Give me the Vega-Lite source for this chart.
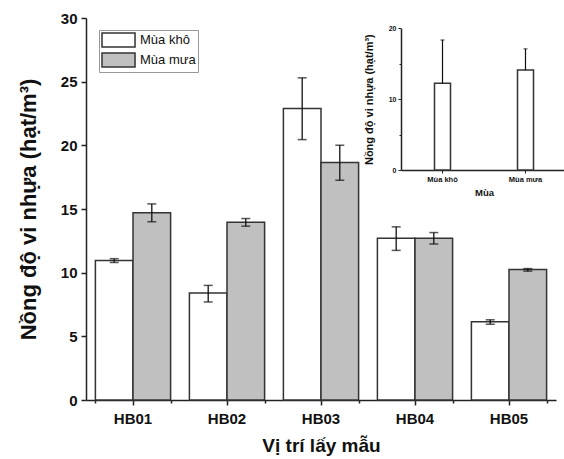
{
  "$schema": "https://vega.github.io/schema/vega-lite/v6.json",
  "autosize": {"type": "none"},
  "padding": {"left": 86, "top": 18, "right": 8, "bottom": 59},
  "width": 470,
  "height": 382,
  "background": "white",
  "config": {
    "view": {"stroke": null},
    "font": "Liberation Sans",
    "axis": {"domainColor": "#222", "domainWidth": 1.5, "tickColor": "#222", "tickWidth": 1.5, "labelColor": "#111", "titleColor": "#111", "labelFont": "Liberation Sans", "titleFont": "Liberation Sans", "grid": false}
  },
  "datasets": {
    "main": [
      {"site": "HB01", "season": "Mùa khô", "mean": 10.95, "lo": 10.8, "hi": 11.1},
      {"site": "HB01", "season": "Mùa mưa", "mean": 14.7, "lo": 14.0, "hi": 15.4},
      {"site": "HB02", "season": "Mùa khô", "mean": 8.4, "lo": 7.7, "hi": 9.0},
      {"site": "HB02", "season": "Mùa mưa", "mean": 13.95, "lo": 13.65, "hi": 14.25},
      {"site": "HB03", "season": "Mùa khô", "mean": 22.9, "lo": 20.45, "hi": 25.3},
      {"site": "HB03", "season": "Mùa mưa", "mean": 18.65, "lo": 17.25, "hi": 20.0},
      {"site": "HB04", "season": "Mùa khô", "mean": 12.7, "lo": 11.75, "hi": 13.6},
      {"site": "HB04", "season": "Mùa mưa", "mean": 12.7, "lo": 12.25, "hi": 13.15},
      {"site": "HB05", "season": "Mùa khô", "mean": 6.15, "lo": 5.95, "hi": 6.3},
      {"site": "HB05", "season": "Mùa mưa", "mean": 10.25, "lo": 10.12, "hi": 10.32}
    ],
    "inset": [
      {"mua": "Mùa khô", "v": 12.25, "hi": 18.35},
      {"mua": "Mùa mưa", "v": 14.1, "hi": 17.1}
    ]
  },
  "layer": [
    {
      "data": {"name": "main"},
      "layer": [
        {
          "encoding": {
            "x": {
              "field": "site", "type": "nominal",
              "scale": {"paddingInner": 0.2, "paddingOuter": 0.1},
              "axis": {"title": "Vị trí lấy mẫu", "labelAngle": 0, "labelFontSize": 15, "labelFontWeight": "bold", "labelPadding": 6, "tickSize": 5, "titleFontSize": 19, "titleFontWeight": "bold", "titlePadding": 10}
            },
            "xOffset": {"field": "season", "type": "nominal", "scale": {"paddingInner": 0, "paddingOuter": 0}}
          },
          "layer": [
            {
              "mark": {"type": "bar", "stroke": "#333", "strokeWidth": 1.5},
              "encoding": {
                "y": {
                  "field": "mean", "type": "quantitative",
                  "scale": {"domain": [0, 30], "nice": false},
                  "axis": {
                    "title": "Nồng độ vi nhựa (hạt/m³)",
                    "values": [0, 2.5, 5, 7.5, 10, 12.5, 15, 17.5, 20, 22.5, 25, 27.5, 30],
                    "labelExpr": "datum.value % 5 === 0 ? datum.label : ''",
                    "tickSize": {"condition": {"test": "datum.value % 5 === 0", "value": 5}, "value": 3},
                    "labelFontSize": 15, "labelFontWeight": "bold", "labelPadding": 4,
                    "titleFontSize": 22, "titleFontWeight": "bold", "titlePadding": 20
                  }
                },
                "fill": {
                  "field": "season", "type": "nominal",
                  "scale": {"domain": ["Mùa khô", "Mùa mưa"], "range": ["#ffffff", "#c0c0c0"]},
                  "legend": {
                    "title": null, "orient": "none", "legendX": 13, "legendY": 12,
                    "strokeColor": "#999", "padding": 2, "rowPadding": 0,
                    "symbolType": "M-1,-1H3.72V1H-1Z", "symbolSize": 196,
                    "symbolStrokeColor": "#333", "symbolStrokeWidth": 1.5,
                    "labelFont": "Liberation Sans", "labelFontSize": 13, "labelColor": "#111", "labelOffset": 23
                  }
                }
              }
            },
            {
              "mark": {"type": "rule", "color": "#111", "strokeWidth": 1.3},
              "encoding": {"y": {"field": "lo", "type": "quantitative"}, "y2": {"field": "hi"}}
            },
            {
              "mark": {"type": "tick", "color": "#111", "size": 9, "thickness": 1.5},
              "encoding": {"y": {"field": "lo", "type": "quantitative"}}
            },
            {
              "mark": {"type": "tick", "color": "#111", "size": 9, "thickness": 1.5},
              "encoding": {"y": {"field": "hi", "type": "quantitative"}}
            }
          ]
        },
        {
          "mark": {"type": "point", "opacity": 0},
          "encoding": {
            "x": {
              "field": "site", "type": "nominal",
              "axis": {"orient": "bottom", "tickBand": "extent", "labels": false, "domain": false, "title": null, "tickSize": 3}
            }
          }
        }
      ],
      "resolve": {"axis": {"x": "independent"}}
    },
    {
      "data": {"name": "inset"},
      "encoding": {
        "x": {
          "field": "mua", "type": "nominal",
          "scale": {"range": [315, 481], "paddingInner": 0, "paddingOuter": 0},
          "axis": {"orient": "bottom", "offset": -230, "title": "Mùa", "labelAngle": 0, "labelFontSize": 7.5, "labelFontWeight": "bold", "labelPadding": 2, "tickSize": 3, "tickWidth": 1, "domainWidth": 1.5, "titleFontSize": 9.5, "titleFontWeight": "bold", "titlePadding": 5}
        }
      },
      "layer": [
        {
          "mark": {"type": "bar", "width": 16, "fill": "white", "stroke": "#333", "strokeWidth": 1.5},
          "encoding": {
            "y": {
              "field": "v", "type": "quantitative",
              "scale": {"domain": [0, 20], "nice": false, "range": [152, 10.3]},
              "axis": {
                "orient": "left", "offset": -315,
                "title": "Nồng độ vi nhựa (hạt/m³)",
                "values": [0, 5, 10, 15, 20],
                "labelExpr": "datum.value % 10 === 0 ? datum.label : ''",
                "tickSize": {"condition": {"test": "datum.value % 10 === 0", "value": 3}, "value": 2},
                "tickWidth": 1,
                "labelFontSize": 7, "labelFontWeight": "bold", "labelPadding": 2,
                "titleFontSize": 11, "titleFontWeight": "bold", "titlePadding": 14
              }
            }
          }
        },
        {
          "mark": {"type": "rule", "color": "#111", "strokeWidth": 1.2},
          "encoding": {"y": {"field": "v", "type": "quantitative"}, "y2": {"field": "hi"}}
        },
        {
          "mark": {"type": "tick", "color": "#111", "size": 4, "thickness": 1.2},
          "encoding": {"y": {"field": "hi", "type": "quantitative"}}
        }
      ]
    }
  ],
  "resolve": {"scale": {"x": "independent", "y": "independent", "fill": "independent"}}
}
